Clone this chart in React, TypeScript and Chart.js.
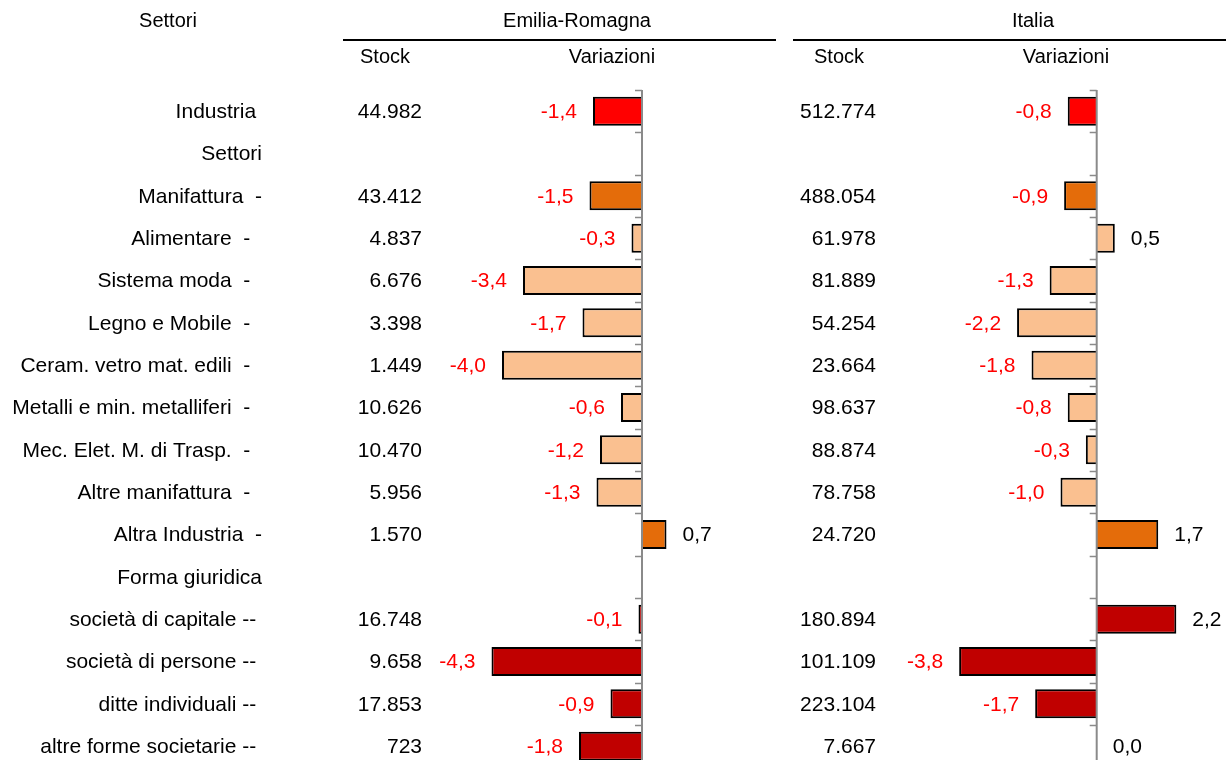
import React, { useEffect, useRef } from 'react';
import { Chart, registerables } from 'chart.js';

Chart.register(...registerables);

// ---------- data ----------
const categories = [
  'Industria ',
  'Settori',
  'Manifattura  -',
  'Alimentare  -  ',
  'Sistema moda  -  ',
  'Legno e Mobile  -  ',
  'Ceram. vetro mat. edili  -  ',
  'Metalli e min. metalliferi  -  ',
  'Mec. Elet. M. di Trasp.  -  ',
  'Altre manifattura  -  ',
  'Altra Industria  -',
  'Forma giuridica',
  'società di capitale -- ',
  'società di persone -- ',
  'ditte individuali -- ',
  'altre forme societarie -- ',
];

const erStock: (number | null)[] = [44982, null, 43412, 4837, 6676, 3398, 1449, 10626, 10470, 5956, 1570, null, 16748, 9658, 17853, 723];
const erVar: (number | null)[] = [-1.4, null, -1.5, -0.3, -3.4, -1.7, -4.0, -0.6, -1.2, -1.3, 0.7, null, -0.1, -4.3, -0.9, -1.8];
const itStock: (number | null)[] = [512774, null, 488054, 61978, 81889, 54254, 23664, 98637, 88874, 78758, 24720, null, 180894, 101109, 223104, 7667];
const itVar: (number | null)[] = [-0.8, null, -0.9, 0.5, -1.3, -2.2, -1.8, -0.8, -0.3, -1.0, 1.7, null, 2.2, -3.8, -1.7, 0.0];

const barColors = [
  '#FF0000', '#FFFFFF', '#E46C0A', '#FAC090', '#FAC090', '#FAC090', '#FAC090', '#FAC090',
  '#FAC090', '#FAC090', '#E46C0A', '#FFFFFF', '#C00000', '#C00000', '#C00000', '#C00000',
];

const headerSettori = 'Settori';
const headerStock = 'Stock';
const headerVar = 'Variazioni';
const regions = ['Emilia-Romagna', 'Italia'];

// ---------- helpers ----------
const FONT = '21px "Liberation Sans", Arial, sans-serif';
const HFONT = '20px "Liberation Sans", Arial, sans-serif';
const W = 1226;
const H = 780;

function fmtInt(n: number) {
  return String(n).replace(/\B(?=(\d{3})+(?!\d))/g, '.');
}
function fmtVar(v: number) {
  return v.toFixed(1).replace('.', ',');
}

type Layout = {
  title: string;
  titleX: number;
  lineFrom: number;
  lineTo: number;
  stockX: number;
  varX: number;
  stockRight: number;
  padLeft: number;
  padRight: number;
  min: number;
  max: number;
  drawCategories: boolean;
};

function makeChart(canvas: HTMLCanvasElement, values: (number | null)[], stocks: (number | null)[], L: Layout) {
  const overlay = {
    id: 'overlay',
    afterDraw(chart: any) {
      const ctx = chart.ctx as CanvasRenderingContext2D;
      const xs = chart.scales.x;
      const ys = chart.scales.y;
      const area = chart.chartArea;
      const x0 = xs.getPixelForValue(0);
      const rowH = ys.getPixelForValue(1) - ys.getPixelForValue(0);
      ctx.save();

      // zero axis with ticks at category boundaries
      ctx.strokeStyle = '#8A8A8A';
      ctx.lineWidth = 2;
      ctx.beginPath();
      ctx.moveTo(x0, area.top);
      ctx.lineTo(x0, area.bottom);
      ctx.stroke();
      ctx.lineWidth = 1.5;
      for (let k = 0; k <= categories.length; k++) {
        const yb = Math.round(ys.getPixelForValue(0) - rowH / 2 + k * rowH) + 0.5;
        ctx.beginPath();
        ctx.moveTo(x0 - 7, yb);
        ctx.lineTo(x0, yb);
        ctx.stroke();
      }

      ctx.textBaseline = 'middle';

      // headers
      ctx.font = HFONT;
      ctx.fillStyle = '#000';
      ctx.textAlign = 'center';
      ctx.fillText(L.title, L.titleX, 21);
      ctx.fillText(headerStock, L.stockX, 57);
      ctx.fillText(headerVar, L.varX, 57);
      ctx.fillRect(L.lineFrom, 39, L.lineTo - L.lineFrom, 2);
      if (L.drawCategories) ctx.fillText(headerSettori, 168, 21);

      ctx.font = FONT;
      const dy = 1;
      if (L.drawCategories) {
        ctx.textAlign = 'right';
        categories.forEach((c, i) => {
          ctx.fillText(c, 262, ys.getPixelForValue(i) + dy);
        });
      }

      // stock values
      ctx.textAlign = 'right';
      stocks.forEach((s, i) => {
        if (s == null) return;
        ctx.fillText(fmtInt(s), L.stockRight, ys.getPixelForValue(i) + dy);
      });

      // variation labels
      values.forEach((v, i) => {
        if (v == null) return;
        const y = ys.getPixelForValue(i) + dy;
        const xe = xs.getPixelForValue(v);
        if (v < 0) {
          ctx.fillStyle = '#FF0000';
          ctx.textAlign = 'right';
          ctx.fillText(fmtVar(v), xe - 16, y);
        } else {
          ctx.fillStyle = '#000';
          ctx.textAlign = 'left';
          ctx.fillText(fmtVar(v), xe + 16, y);
        }
      });
      ctx.restore();
    },
  };

  return new Chart(canvas, {
    type: 'bar',
    data: {
      labels: categories,
      datasets: [
        {
          data: values as any,
          backgroundColor: barColors,
          borderColor: '#000000',
          borderWidth: 2,
          barPercentage: 0.685,
          categoryPercentage: 1,
        },
      ],
    },
    options: {
      indexAxis: 'y',
      responsive: false,
      animation: false,
      devicePixelRatio: 1,
      events: [],
      layout: {
        padding: { left: L.padLeft, right: L.padRight, top: 90, bottom: H - 767.3 },
      },
      plugins: { legend: { display: false }, tooltip: { enabled: false }, title: { display: false } },
      scales: {
        x: { display: false, min: L.min, max: L.max },
        y: { display: false },
      },
    },
    plugins: [overlay],
  } as any);
}

export default function App() {
  const refA = useRef<HTMLCanvasElement>(null);
  const refB = useRef<HTMLCanvasElement>(null);

  useEffect(() => {
    const a = makeChart(refA.current!, erVar, erStock, {
      title: regions[0],
      titleX: 577,
      lineFrom: 343,
      lineTo: 776,
      stockX: 385,
      varX: 612,
      stockRight: 422,
      padLeft: 642 - 5 * 35,
      padRight: W - (642 + 2 * 35),
      min: -5,
      max: 2,
      drawCategories: true,
    });
    const b = makeChart(refB.current!, itVar, itStock, {
      title: regions[1],
      titleX: 1033,
      lineFrom: 793,
      lineTo: 1226,
      stockX: 839,
      varX: 1066,
      stockRight: 876,
      padLeft: 1096.7 - 5 * 36.2,
      padRight: W - (1096.7 + 3 * 36.2),
      min: -5,
      max: 3,
      drawCategories: false,
    });
    return () => {
      a.destroy();
      b.destroy();
    };
  }, []);

  const style: React.CSSProperties = { position: 'absolute', left: 0, top: 0 };
  return (
    <div style={{ position: 'absolute', left: 0, top: 0, width: W, height: 760, overflow: 'hidden', background: '#fff' }}>
      <canvas ref={refA} width={W} height={H} style={style} />
      <canvas ref={refB} width={W} height={H} style={style} />
    </div>
  );
}
